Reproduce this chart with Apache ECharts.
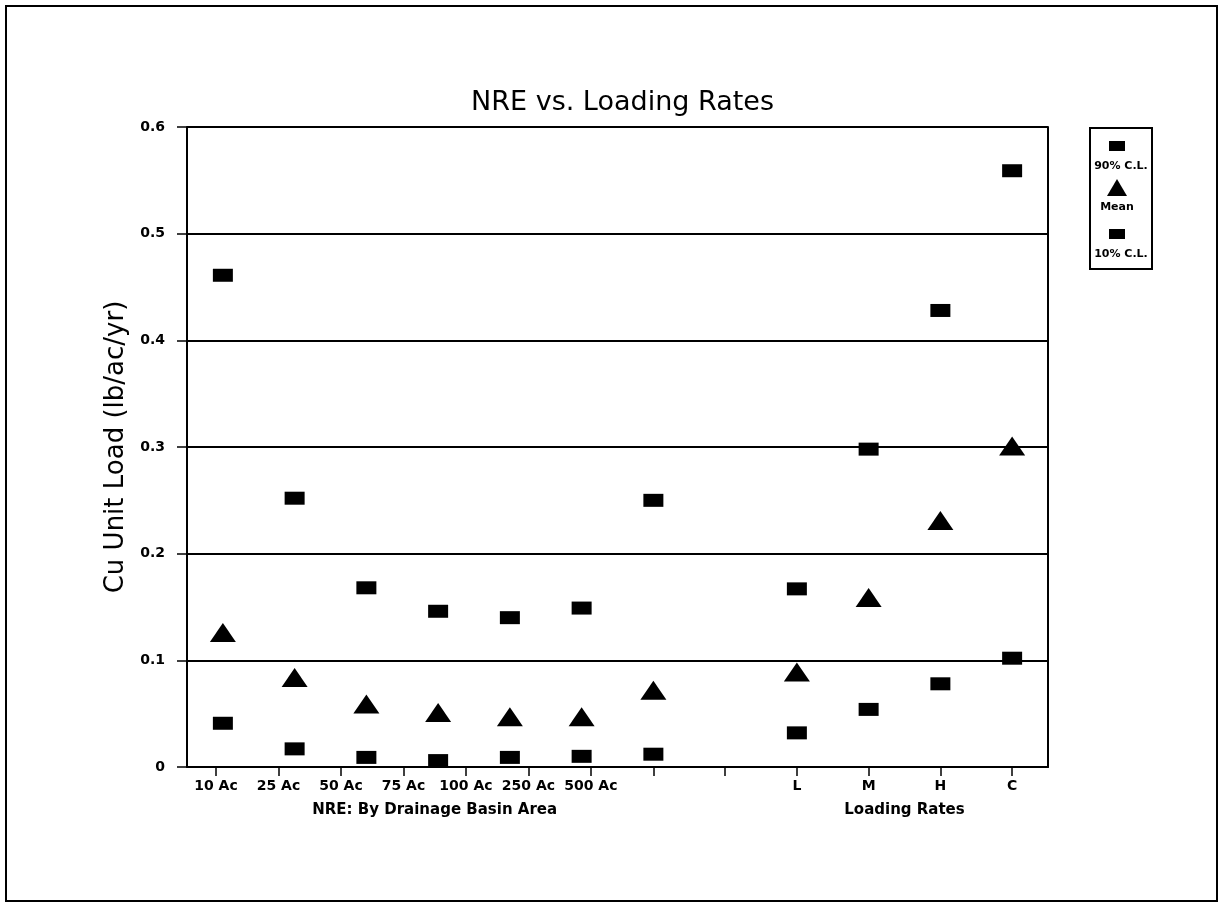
<!DOCTYPE html>
<html>
<head>
<meta charset="utf-8">
<script src="https://cdn.jsdelivr.net/npm/echarts@6/dist/echarts.min.js"></script>
<style>
html,body{margin:0;padding:0;background:#fff;}
#chart{width:1221px;height:906px;}
</style>
</head>
<body>
<div id="chart"></div>
<script>
// ---- data ----
const basinAreas = ['10 Ac', '25 Ac', '50 Ac', '75 Ac', '100 Ac', '250 Ac', '500 Ac'];
const loadingRates = ['L', 'M', 'H', 'C'];
const seriesNames = ['90% C.L.', 'Mean', '10% C.L.'];

const cl90Basin = [0.461, 0.252, 0.168, 0.146, 0.140, 0.149, 0.250];
const meanBasin = [0.126, 0.084, 0.059, 0.051, 0.047, 0.047, 0.072];
const cl10Basin = [0.041, 0.017, 0.009, 0.006, 0.009, 0.010, 0.012];

const cl90Rates = [0.167, 0.298, 0.428, 0.559];
const meanRates = [0.089, 0.159, 0.231, 0.301];
const cl10Rates = [0.032, 0.054, 0.078, 0.102];

const yMin = 0, yMax = 0.6, yStep = 0.1;

// ---- layout ----
const plotLeft = 187, plotRight = 1048, plotTop = 127, plotBottom = 767;
const allCats = [...basinAreas, '', ...loadingRates];
const slot = (plotRight - plotLeft) / allCats.length;
const gap = basinAreas.length; // index of blank slot
const font = 'DejaVu Sans';
const ink = '#000';

// label axis for basin areas (ticks offset as in the original)
const basinLabelLeft = 216, basinLabelRight = plotLeft + slot * (gap - 0.5);
const rateLeft = plotLeft + slot * (gap + 1.5);
const rateRight = plotLeft + slot * (allCats.length - 0.5);

const chart = echarts.init(document.getElementById('chart'), null, {renderer: 'canvas'});

function join(a, b) { return [...a, '-', ...b]; }

const labelStyle = {color: ink, fontFamily: font, fontWeight: 'bold', fontSize: 14, margin: 12};
const subTitleStyle = {color: ink, fontFamily: font, fontWeight: 'bold', fontSize: 15};

const option = {
  backgroundColor: '#fff',
  animation: false,
  title: {
    text: 'NRE vs. Loading Rates',
    left: (plotLeft + plotRight) / 2,
    textAlign: 'center',
    top: 84,
    textStyle: {color: ink, fontFamily: font, fontWeight: 'normal', fontSize: 27}
  },
  grid: [
    {left: plotLeft, top: plotTop, width: plotRight - plotLeft, height: plotBottom - plotTop},
    {left: basinLabelLeft, top: plotTop, width: basinLabelRight - basinLabelLeft, height: plotBottom - plotTop},
    {left: rateLeft, top: plotTop, width: rateRight - rateLeft, height: plotBottom - plotTop}
  ],
  xAxis: [
    {
      gridIndex: 0, type: 'category', data: allCats, boundaryGap: true,
      axisLine: {show: true, lineStyle: {color: ink, width: 2}},
      axisTick: {show: true, alignWithLabel: true, length: 9, lineStyle: {color: ink, width: 1.5},
                 interval: function (i) { return i === gap; }},
      axisLabel: {show: false},
      splitLine: {show: false}
    },
    {
      gridIndex: 1, type: 'category', data: [...basinAreas, ''], boundaryGap: false,
      axisLine: {show: false},
      axisTick: {show: true, length: 9, lineStyle: {color: ink, width: 1.5}},
      axisLabel: Object.assign({interval: 0}, labelStyle),
      splitLine: {show: false},
      name: 'NRE: By Drainage Basin Area', nameLocation: 'middle', nameGap: 36,
      nameTextStyle: subTitleStyle
    },
    {
      gridIndex: 2, type: 'category', data: loadingRates, boundaryGap: false,
      axisLine: {show: false},
      axisTick: {show: true, length: 9, lineStyle: {color: ink, width: 1.5}},
      axisLabel: Object.assign({interval: 0}, labelStyle),
      splitLine: {show: false},
      name: 'Loading Rates', nameLocation: 'middle', nameGap: 36,
      nameTextStyle: subTitleStyle
    }
  ],
  yAxis: [
    {
      gridIndex: 0, type: 'value', min: yMin, max: yMax, interval: yStep,
      axisLine: {show: true, lineStyle: {color: ink, width: 2}},
      axisTick: {show: true, length: 10, lineStyle: {color: ink, width: 1.5}},
      axisLabel: {color: ink, fontFamily: font, fontWeight: 'bold', fontSize: 14, margin: 22,
                  formatter: function (v) { return v === 0 ? '0' : v.toFixed(1); }},
      splitLine: {show: true, lineStyle: {color: ink, width: 2}},
      name: 'Cu Unit Load (lb/ac/yr)', nameLocation: 'middle', nameGap: 50,
      nameTextStyle: {color: ink, fontFamily: font, fontSize: 26}
    },
    {
      gridIndex: 0, type: 'value', min: yMin, max: yMax, interval: yStep, position: 'right',
      axisLine: {show: true, lineStyle: {color: ink, width: 2}},
      axisTick: {show: false}, axisLabel: {show: false}, splitLine: {show: false}
    },
    {gridIndex: 1, type: 'value', min: 0, max: 1, show: false},
    {gridIndex: 2, type: 'value', min: 0, max: 1, show: false}
  ],
  series: [
    {
      name: seriesNames[0], type: 'scatter', xAxisIndex: 0, yAxisIndex: 0,
      symbol: 'rect', symbolSize: [20, 13], itemStyle: {color: ink, opacity: 1},
      data: join(cl90Basin, cl90Rates)
    },
    {
      name: seriesNames[1], type: 'scatter', xAxisIndex: 0, yAxisIndex: 0,
      symbol: 'triangle', symbolSize: [26, 19], itemStyle: {color: ink, opacity: 1},
      data: join(meanBasin, meanRates)
    },
    {
      name: seriesNames[2], type: 'scatter', xAxisIndex: 0, yAxisIndex: 0,
      symbol: 'rect', symbolSize: [20, 13], itemStyle: {color: ink, opacity: 1},
      data: join(cl10Basin, cl10Rates)
    }
  ],
  graphic: [
    // outer frame
    {type: 'rect', shape: {x: 6, y: 6, width: 1211, height: 895},
     style: {fill: 'none', stroke: ink, lineWidth: 2}, silent: true},
    // legend box
    {type: 'group', left: 1089, top: 127, silent: true, children: [
      {type: 'rect', shape: {x: 0, y: 0, width: 62, height: 141},
       style: {fill: '#fff', stroke: ink, lineWidth: 2}},
      {type: 'rect', shape: {x: 19, y: 13, width: 16, height: 10}, style: {fill: ink}},
      {type: 'text', x: 31, y: 38, style: {text: seriesNames[0], fill: ink, font: 'bold 11px "DejaVu Sans"', textAlign: 'center', textVerticalAlign: 'middle'}},
      {type: 'polygon', shape: {points: [[27, 51], [17, 68], [37, 68]]}, style: {fill: ink}},
      {type: 'text', x: 27, y: 79, style: {text: seriesNames[1], fill: ink, font: 'bold 11px "DejaVu Sans"', textAlign: 'center', textVerticalAlign: 'middle'}},
      {type: 'rect', shape: {x: 19, y: 101, width: 16, height: 10}, style: {fill: ink}},
      {type: 'text', x: 31, y: 126, style: {text: seriesNames[2], fill: ink, font: 'bold 11px "DejaVu Sans"', textAlign: 'center', textVerticalAlign: 'middle'}}
    ]}
  ]
};
chart.setOption(option);
</script>
</body>
</html>
